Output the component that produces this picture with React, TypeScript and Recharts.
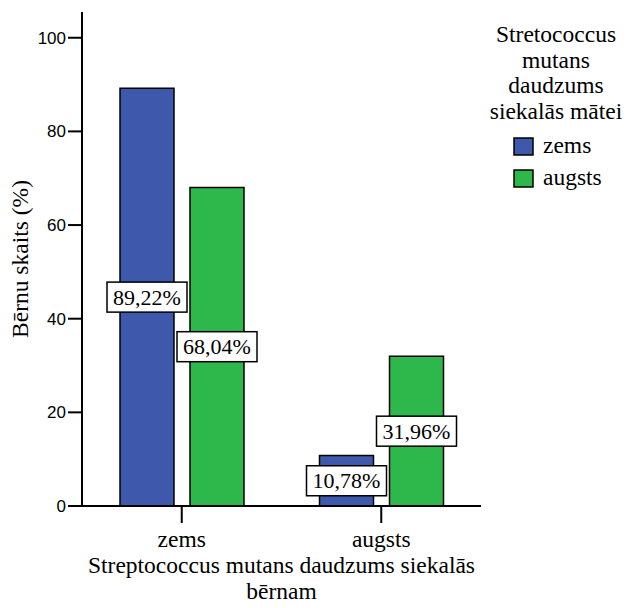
import React from 'react';
import { BarChart, Bar, XAxis, YAxis, LabelList } from 'recharts';

const categories = ['zems', 'augsts'];
const seriesNames = ['zems', 'augsts'];
const lowValues = [89.22, 10.78];
const highValues = [68.04, 31.96];
const yTicks = [0, 20, 40, 60, 80, 100];
const legendTitleLines = ['Stretococcus', 'mutans', 'daudzums', 'siekalās mātei'];
const xTitleLines = ['Streptococcus mutans daudzums siekalās', 'bērnam'];
const yTitle = 'Bērnu skaits (%)';

const COLORS = ['#3E58AC', '#2EB84B'];
const SERIF = 'Liberation Serif';
const SANS = 'Liberation Sans';
const FS = 23.5;

const data = categories.map((c, i) => ({ cat: c, zems: lowValues[i], augsts: highValues[i] }));

const fmt = (v: number) => v.toFixed(2).replace('.', ',') + '%';

const BoxLabel = (props: any) => {
  const { x, y, width, height, value } = props;
  const cx = Number(x) + Number(width) / 2;
  const cy = Number(y) + Number(height) / 2;
  return (
    <g>
      <rect x={cx - 40} y={cy - 15} width={80} height={30} fill="#fff" stroke="#000" strokeWidth={1.5} />
      <text x={cx} y={cy + 7.5} textAnchor="middle" fontFamily={SERIF} fontSize={22} fill="#000">
        {fmt(Number(value))}
      </text>
    </g>
  );
};

const XTitle = (props: any) => {
  const vb = props.viewBox || {};
  const cx = vb.x + vb.width / 2;
  return (
    <text textAnchor="middle" fontFamily={SERIF} fontSize={FS} fill="#000">
      <tspan x={cx} y={vb.y + 67}>{xTitleLines[0]}</tspan>
      <tspan x={cx} y={vb.y + 93}>{xTitleLines[1]}</tspan>
    </text>
  );
};

const YTitle = (props: any) => {
  const vb = props.viewBox || {};
  const cy = vb.y + vb.height / 2;
  const x = 28;
  return (
    <text x={x} y={cy} transform={`rotate(-90, ${x}, ${cy})`} textAnchor="middle" fontFamily={SERIF} fontSize={FS} fill="#000">
      {yTitle}
    </text>
  );
};

const XTick = (props: any) => {
  const { x, y, payload } = props;
  return (
    <text x={x} y={Number(y) + 15} textAnchor="middle" fontFamily={SERIF} fontSize={FS} fill="#000">
      {payload.value}
    </text>
  );
};

export default function App() {
  return (
    <div style={{ position: 'absolute', left: 0, top: 0, width: 627, height: 608, background: '#fff', fontFamily: SERIF }}>
      <BarChart
        width={627}
        height={608}
        data={data}
        margin={{ top: 12, right: 146, bottom: 0, left: 0 }}
        barGap={16}
        barSize={54}
        style={{ fontFamily: SERIF }}
      >
        <XAxis
          dataKey="cat"
          height={102}
          tickSize={17}
          tickMargin={9}
          tick={<XTick />}
          axisLine={{ stroke: '#000', strokeWidth: 2 }}
          tickLine={{ stroke: '#000', strokeWidth: 2 }}
          label={<XTitle />}
        />
        <XAxis
          xAxisId="top"
          orientation="top"
          dataKey="cat"
          height={0}
          tick={false}
          tickLine={false}
          axisLine={{ stroke: '#000', strokeWidth: 2 }}
        />
        <YAxis
          domain={[0, 105.5]}
          ticks={yTicks}
          width={82}
          tickSize={14}
          tickMargin={2}
          tick={{ fontFamily: SANS, fontSize: 17, fill: '#000' }}
          axisLine={{ stroke: '#000', strokeWidth: 2 }}
          tickLine={{ stroke: '#000', strokeWidth: 2 }}
          label={<YTitle />}
          allowDataOverflow
        />
        <YAxis
          yAxisId="right"
          orientation="right"
          width={0}
          domain={[0, 105.5]}
          tick={false}
          tickLine={false}
          axisLine={{ stroke: '#000', strokeWidth: 2 }}
        />
        <Bar dataKey="zems" name={seriesNames[0]} fill={COLORS[0]} stroke="#000" strokeWidth={1.5} isAnimationActive={false}>
          <LabelList dataKey="zems" content={<BoxLabel />} />
        </Bar>
        <Bar dataKey="augsts" name={seriesNames[1]} fill={COLORS[1]} stroke="#000" strokeWidth={1.5} isAnimationActive={false}>
          <LabelList dataKey="augsts" content={<BoxLabel />} />
        </Bar>
      </BarChart>
      <svg width={146} height={220} style={{ position: 'absolute', left: 481, top: 0 }}>
        {legendTitleLines.map((t, i) => (
          <text key={t} x={75} y={42 + i * 25.5} textAnchor="middle" fontFamily={SERIF} fontSize={FS} fill="#000">
            {t}
          </text>
        ))}
        {seriesNames.map((s, i) => (
          <g key={s}>
            <rect x={33} y={138 + i * 32} width={19} height={17} fill={COLORS[i]} stroke="#000" strokeWidth={1.5} />
            <text x={62} y={153 + i * 32} fontFamily={SERIF} fontSize={FS} fill="#000">
              {s}
            </text>
          </g>
        ))}
      </svg>
    </div>
  );
}
